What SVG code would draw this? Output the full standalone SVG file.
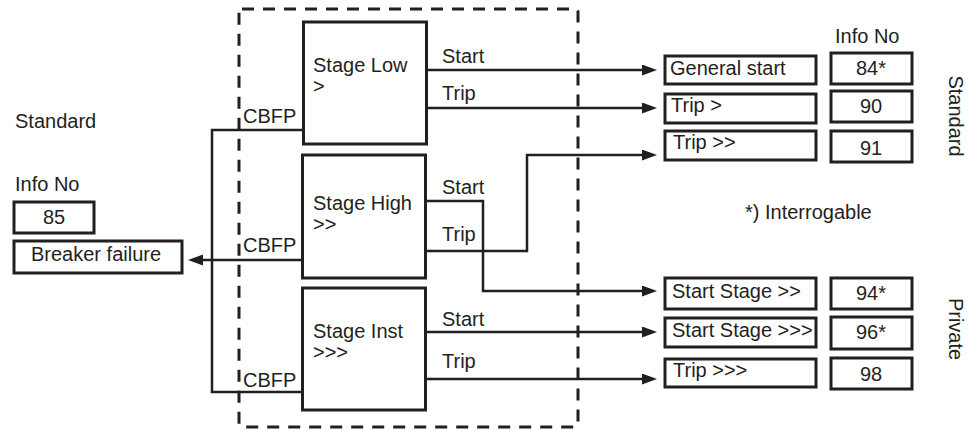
<svg xmlns="http://www.w3.org/2000/svg" width="973" height="430" viewBox="0 0 973 430">
<style>
text{font-family:"Liberation Sans",Arial,sans-serif;font-size:20px;fill:#231f20}
.box{fill:#fff;stroke:#231f20;stroke-width:3}
.ln{fill:none;stroke:#231f20;stroke-width:2.5}
.dash{fill:none;stroke:#231f20;stroke-width:3;stroke-dasharray:12 9}
.mid{text-anchor:middle}
</style>
<defs>
<marker id="arr" markerUnits="userSpaceOnUse" markerWidth="16" markerHeight="12" refX="1" refY="5.5" orient="auto">
<path d="M0,0 L15,5.5 L0,11 Z" fill="#231f20"/>
</marker>
</defs>
<rect class="dash" x="239" y="9" width="339" height="418" rx="3"/>
<g id="connectors">
<path class="ln" d="M427,70 H643" marker-end="url(#arr)"/>
<path class="ln" d="M427,108 H643" marker-end="url(#arr)"/>
<path class="ln" d="M426,201 H483 V291 H643" marker-end="url(#arr)"/>
<path class="ln" d="M426,251 H527 V155 H643" marker-end="url(#arr)"/>
<path class="ln" d="M426,332 H643" marker-end="url(#arr)"/>
<path class="ln" d="M426,379 H643" marker-end="url(#arr)"/>
<path class="ln" d="M303,130 H212 V392 H302"/>
<path class="ln" d="M302,260 H202" marker-end="url(#arr)"/>
<text x="442" y="63">Start</text>
<text x="442" y="100">Trip</text>
<text x="442" y="194">Start</text>
<text x="442" y="241">Trip</text>
<text x="442" y="326">Start</text>
<text x="442" y="368">Trip</text>
<text x="243" y="123">CBFP</text>
<text x="243" y="252">CBFP</text>
<text x="243" y="387">CBFP</text>
</g>
<g id="stage-low">
<rect class="box" x="303.5" y="22" width="123" height="122"/>
<text x="313" y="72">Stage Low</text>
<text x="313" y="93">&gt;</text>
</g>
<g id="stage-high">
<rect class="box" x="302.5" y="155" width="123" height="123"/>
<text x="313" y="210">Stage High</text>
<text x="313" y="231">&gt;&gt;</text>
</g>
<g id="stage-inst">
<rect class="box" x="302.5" y="288" width="123" height="122"/>
<text x="313" y="338">Stage Inst</text>
<text x="313" y="359">&gt;&gt;&gt;</text>
</g>
<g id="left-labels">
<text x="15" y="128">Standard</text>
<text x="15" y="191">Info No</text>
</g>
<g id="info-85">
<rect class="box" x="14" y="202" width="80" height="31"/>
<text class="mid" x="54" y="224">85</text>
</g>
<g id="breaker-failure">
<rect class="box" x="14" y="241" width="168" height="32"/>
<text x="31" y="261">Breaker failure</text>
</g>
<g id="right-labels">
<text x="835" y="43">Info No</text>
<text x="745" y="219">*) Interrogable</text>
<text class="mid" transform="translate(949,116) rotate(90)">Standard</text>
<text class="mid" transform="translate(949,329) rotate(90)">Private</text>
</g>
<g id="general-start">
<rect class="box" x="665" y="56" width="151" height="28"/>
<text x="670" y="75">General start</text>
</g>
<g id="trip-low">
<rect class="box" x="665" y="94" width="151" height="29"/>
<text x="671" y="112">Trip &gt;</text>
</g>
<g id="trip-high">
<rect class="box" x="665" y="131" width="151" height="29"/>
<text x="673" y="149">Trip &gt;&gt;</text>
</g>
<g id="start-stage-high">
<rect class="box" x="665" y="278" width="151" height="31"/>
<text x="672" y="298">Start Stage &gt;&gt;</text>
</g>
<g id="start-stage-inst">
<rect class="box" x="665" y="318" width="151" height="29"/>
<text x="672" y="337">Start Stage &gt;&gt;&gt;</text>
</g>
<g id="trip-inst">
<rect class="box" x="665" y="359" width="151" height="28"/>
<text x="673" y="377">Trip &gt;&gt;&gt;</text>
</g>
<g id="no-84"><rect class="box" x="831" y="53" width="81" height="31"/><text class="mid" x="871" y="75">84*</text></g>
<g id="no-90"><rect class="box" x="831" y="91" width="81" height="31"/><text class="mid" x="871" y="113">90</text></g>
<g id="no-91"><rect class="box" x="831" y="131" width="81" height="31"/><text class="mid" x="871" y="155">91</text></g>
<g id="no-94"><rect class="box" x="831" y="278" width="81" height="31"/><text class="mid" x="871" y="300">94*</text></g>
<g id="no-96"><rect class="box" x="831" y="317" width="81" height="32"/><text class="mid" x="871" y="339">96*</text></g>
<g id="no-98"><rect class="box" x="831" y="358" width="81" height="31"/><text class="mid" x="871" y="381">98</text></g>
</svg>
